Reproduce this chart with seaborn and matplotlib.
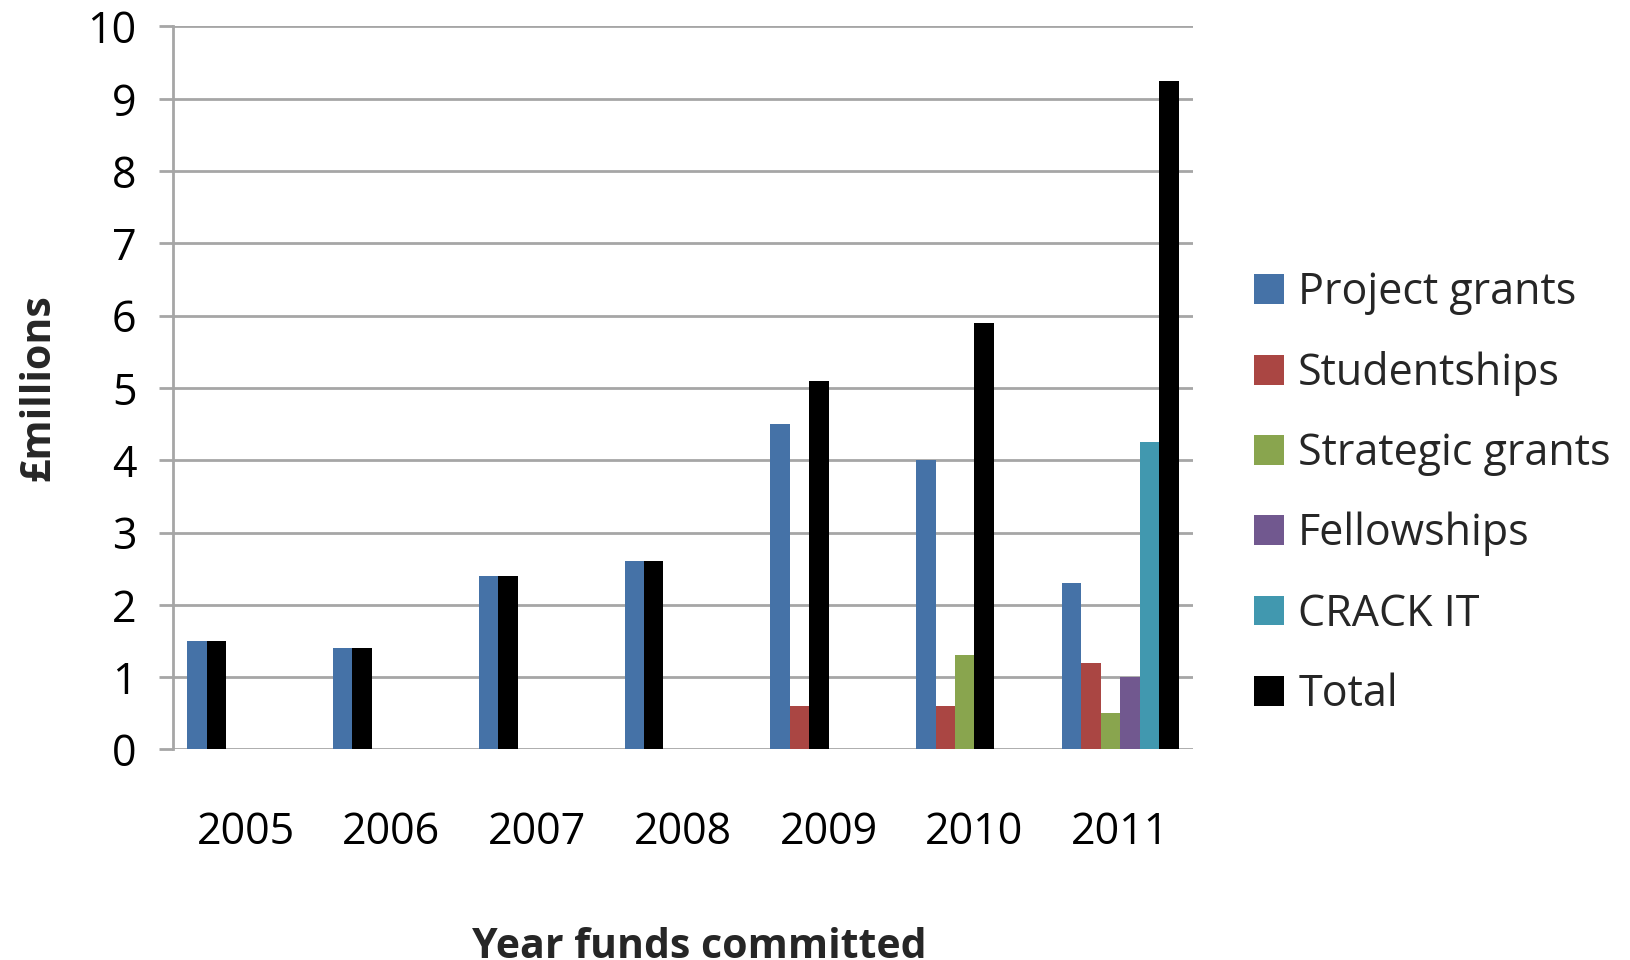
import matplotlib
matplotlib.use("Agg")
import matplotlib.pyplot as plt
from matplotlib.patches import Patch
import seaborn as sns
import pandas as pd

# Funding committed per year (£ millions); None = no award in that year
years = ["2005", "2006", "2007", "2008", "2009", "2010", "2011"]
project_grants = [1.5, 1.4, 2.4, 2.6, 4.5, 4.0, 2.3]
studentships = [None, None, None, None, 0.6, 0.6, 1.2]
strategic_grants = [None, None, None, None, None, 1.3, 0.5]
fellowships = [None, None, None, None, None, None, 1.0]
crack_it = [None, None, None, None, None, None, 4.25]
total = [1.5, 1.4, 2.4, 2.6, 5.1, 5.9, 9.25]

series_names = ["Project grants", "Studentships", "Strategic grants",
                "Fellowships", "CRACK IT", "Total"]
series_values = [project_grants, studentships, strategic_grants,
                 fellowships, crack_it, total]
series_colors = ["#4572A7", "#AA4643", "#89A54E", "#71588F", "#4198AF", "#000000"]

# Long-form table: within each year the awarded series fill consecutive slots
rows = []
for i, year in enumerate(years):
    slot = 0
    for name, vals in zip(series_names, series_values):
        v = vals[i]
        if v is None:
            continue
        rows.append({"year": year, "series": name, "value": v, "slot": slot})
        slot += 1
df = pd.DataFrame(rows)
n_slots = len(series_names)

sns.set_theme(style="white")
plt.rcParams["font.family"] = ["Open Sans", "DejaVu Sans"]

fig = plt.figure(figsize=(16.31, 9.6), dpi=100)
ax = fig.add_axes([0.1059, 0.2193, 0.7315 - 0.1059, 0.9724 - 0.2193])

sns.barplot(data=df, x="year", y="value", hue="slot",
            hue_order=list(range(n_slots)), order=years,
            dodge=True, width=0.8, errorbar=None, saturation=1,
            linewidth=0, legend=False, ax=ax)

# Colour each bar by the series it represents
color_of = dict(zip(series_names, series_colors))
lookup = {(r.year, r.slot): r.series for r in df.itertuples()}
for k, container in enumerate(ax.containers):
    for patch in container.patches:
        xc = patch.get_x() + patch.get_width() / 2
        yi = int(round(xc))
        key = (years[yi], k)
        if key in lookup:
            patch.set_facecolor(color_of[lookup[key]])
            patch.set_edgecolor("none")

ax.set_xlim(-0.5, len(years) - 0.5)
ax.set_ylim(0, 10)
ax.set_yticks(range(0, 11))

grid_col = "#a6a6a6"
ax.yaxis.grid(True, color=grid_col, linewidth=2)
ax.set_axisbelow(True)
for side in ["top", "right", "bottom"]:
    ax.spines[side].set_visible(False)
ax.spines["left"].set_color(grid_col)
ax.spines["left"].set_linewidth(2)

ax.tick_params(axis="y", which="major", direction="out", length=10,
               width=2, color=grid_col, pad=16, labelsize=31, labelcolor="black", left=True)
ax.tick_params(axis="x", length=0, pad=44, labelsize=31, labelcolor="black")

ax.set_xlabel("Year funds committed", fontsize=29.5, fontweight="bold")
ax.xaxis.set_label_coords(0.516, -0.245)
ax.xaxis.label.set_verticalalignment("top")
ax.set_ylabel("£millions", fontsize=29.5, fontweight="bold", labelpad=20)

handles = [Patch(facecolor=c, edgecolor="none") for c in series_colors]
fig.legend(handles, series_names, loc="center left",
           bbox_to_anchor=(0.769, 0.4857), frameon=False,
           fontsize=31, handlelength=0.68, handleheight=0.68,
           handletextpad=0.34, labelspacing=0.83,
           borderpad=0, borderaxespad=0)

fig.savefig("out.png", dpi=100, facecolor="white")
